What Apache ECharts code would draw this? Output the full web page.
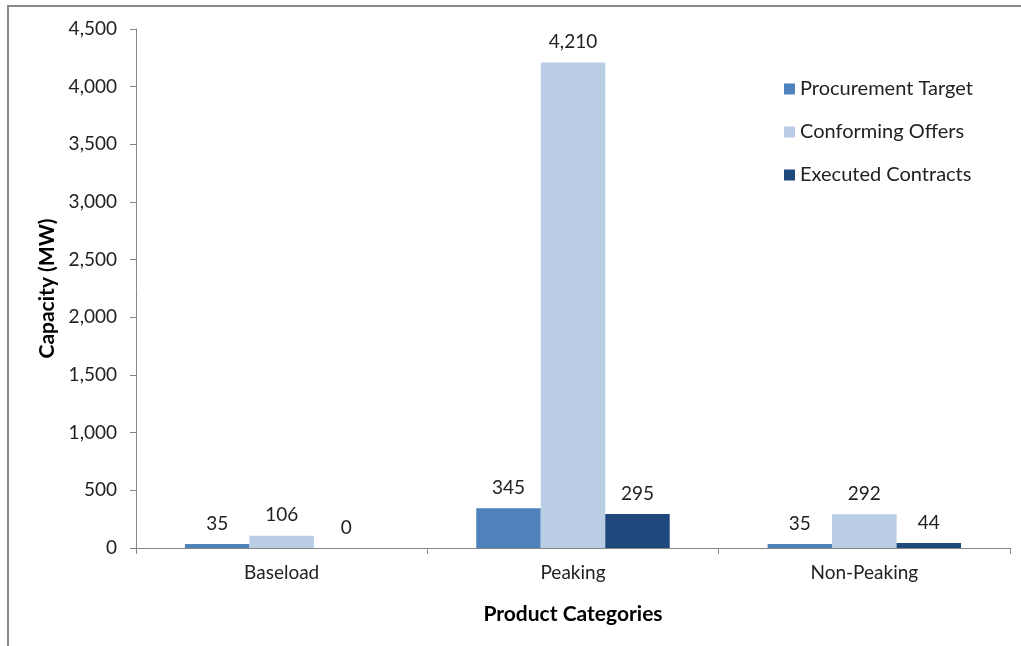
<!DOCTYPE html>
<html><head><meta charset="utf-8">
<script src="https://cdn.jsdelivr.net/npm/echarts@6/dist/echarts.min.js"></script>
<style>html,body{margin:0;padding:0;background:#fff}#c{width:1021px;height:646px}</style>
</head><body><div id="c"></div>
<script>
const categories = ["Baseload", "Peaking", "Non-Peaking"];
const seriesNames = ["Procurement Target", "Conforming Offers", "Executed Contracts"];
const procurementTarget = [35, 345, 35];
const conformingOffers = [106, 4210, 292];
const executedContracts = [0, 295, 44];
const colors = ["#4F81BD", "#B9CDE5", "#1F497D"];
const FONT = "Lato, 'Open Sans', sans-serif";
const fmt = v => Number(v).toLocaleString('en-US');
const chart = echarts.init(document.getElementById('c'));
const values = [procurementTarget, conformingOffers, executedContracts];
chart.setOption({
  animation: false,
  textStyle: {fontFamily: FONT},
  graphic: [{type: 'rect', shape: {x: 8, y: 6, width: 1200, height: 1000}, style: {fill: 'none', stroke: '#8a8a8a', lineWidth: 2}, silent: true}],
  grid: {left: 136, right: 11, top: 29, bottom: 98, containLabel: false},
  legend: {
    orient: 'vertical', left: 779, top: 74, itemGap: 23, itemWidth: 11, itemHeight: 11,
    icon: 'rect', textStyle: {fontFamily: FONT, fontSize: 20, color: '#222'},
    data: seriesNames
  },
  xAxis: {
    type: 'category', data: categories,
    name: 'Product Categories', nameLocation: 'middle', nameGap: 56,
    nameTextStyle: {fontFamily: FONT, fontSize: 21, fontWeight: 'bold', color: '#000'},
    axisLine: {lineStyle: {color: '#868686'}},
    axisTick: {show: true, length: 6, lineStyle: {color: '#868686'}},
    axisLabel: {fontFamily: FONT, fontSize: 19, color: '#222', margin: 15}
  },
  yAxis: {
    type: 'value', min: 0, max: 4500, interval: 500,
    name: 'Capacity (MW)', nameLocation: 'middle', nameGap: 78,
    nameTextStyle: {fontFamily: FONT, fontSize: 21, fontWeight: 'bold', color: '#000'},
    axisLine: {show: true, lineStyle: {color: '#868686'}},
    axisTick: {show: true, length: 6, lineStyle: {color: '#868686'}},
    splitLine: {show: false},
    axisLabel: {fontFamily: FONT, fontSize: 19, color: '#222', margin: 19, formatter: fmt}
  },
  series: seriesNames.map((n, i) => ({
    name: n, type: 'bar', data: values[i],
    barGap: '0%', barCategoryGap: '33.6%',
    itemStyle: {color: colors[i]},
    label: {show: true, position: 'top', distance: 11, fontFamily: FONT, fontSize: 19, color: '#222', formatter: p => fmt(p.value)}
  }))
});
</script></body></html>
